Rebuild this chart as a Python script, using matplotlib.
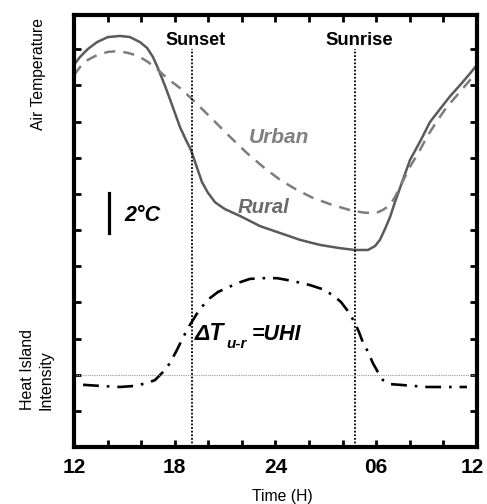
import matplotlib.pyplot as plt
from matplotlib.transforms import ScaledTranslation

plt.rcParams['font.family'] = ['Liberation Sans', 'DejaVu Sans']

# hours since noon of day 1 (12 -> 36), temperatures in arbitrary tick units
rural_t = [12.00, 12.36, 12.83, 13.37, 14.02, 14.74, 15.33, 15.93, 16.35, 16.70,
           17.00, 17.42, 17.84, 18.31, 18.67, 18.97, 19.27, 19.62, 19.98, 20.40,
           20.99, 21.89, 23.08, 24.27, 25.46, 26.65, 27.84, 28.73, 29.51, 29.93,
           30.22, 30.52, 30.82, 31.12, 31.41, 32.01, 32.61, 33.20, 33.80, 34.39,
           34.99, 35.58, 36.00]
rural_y = [10.57, 10.79, 11.01, 11.20, 11.34, 11.37, 11.34, 11.20, 11.04, 10.79,
           10.48, 9.99, 9.46, 8.85, 8.49, 8.21, 7.80, 7.33, 7.03, 6.77,
           6.58, 6.39, 6.11, 5.92, 5.73, 5.59, 5.50, 5.45, 5.45, 5.56,
           5.73, 6.03, 6.36, 6.78, 7.16, 7.94, 8.45, 8.99, 9.35, 9.70,
           10.01, 10.33, 10.57]

urban_t = [12.00, 12.36, 12.83, 13.37, 14.02, 14.62, 15.22, 15.81, 16.41, 17.00,
           17.60, 18.31, 18.90, 19.50, 20.28, 21.29, 22.30, 23.26, 24.27, 25.28,
           26.23, 27.42, 28.61, 29.33, 30.04, 30.40, 30.82, 31.12, 31.41, 32.01,
           32.61, 33.02, 33.62, 34.21, 34.87, 35.58, 36.00]
urban_y = [10.29, 10.51, 10.71, 10.84, 10.93, 10.95, 10.90, 10.82, 10.65, 10.43,
           10.18, 9.93, 9.68, 9.41, 9.05, 8.58, 8.13, 7.75, 7.39, 7.11,
           6.89, 6.69, 6.53, 6.48, 6.48, 6.56, 6.69, 6.92, 7.19, 7.75,
           8.22, 8.58, 9.02, 9.41, 9.76, 10.15, 10.35]

uhi_t = [12.54, 13.55, 14.74, 15.63, 16.35, 16.82, 17.12, 17.42, 17.71, 18.07,
         18.49, 18.79, 19.08, 19.50, 20.10, 20.58, 21.11, 21.77, 22.48, 23.26,
         24.10, 25.04, 26.05, 26.77, 27.42, 27.90, 28.26, 28.56, 28.73, 28.97,
         29.20, 29.51, 29.80, 30.10, 30.40, 30.82, 31.41, 32.19, 33.02, 34.21,
         35.40]
uhi_y = [1.72, 1.69, 1.66, 1.69, 1.77, 1.85, 1.99, 2.13, 2.32, 2.63,
         3.02, 3.29, 3.51, 3.82, 4.12, 4.29, 4.40, 4.54, 4.65, 4.67,
         4.67, 4.59, 4.48, 4.37, 4.20, 4.01, 3.79, 3.57, 3.43, 3.18,
         2.90, 2.63, 2.32, 2.07, 1.85, 1.74, 1.72, 1.69, 1.66, 1.66,
         1.66]

sunset = 19.0
sunrise = 28.75
zero_line = 2.0

xticks = [12, 18, 24, 30, 36]
xlabels = ['12', '18', '24', '06', '12']

fig = plt.figure(figsize=(4.87, 5.04), dpi=100)
ax = fig.add_axes([74 / 487, 57 / 504, 403 / 487, 432 / 504])

ax.plot(rural_t, rural_y, color='#5a5a5a', lw=1.8, solid_joinstyle='round')
ax.plot(urban_t, urban_y, color='#7d7d7d', lw=1.8, dashes=(4.5, 3.2))
ax.plot(uhi_t, uhi_y, color='black', lw=1.9, dashes=(6, 3, 1, 3))

ax.axhline(zero_line, color='#999999', lw=0.8, ls=(0, (1, 1)))
ax.plot([sunset, sunset], [0, 11.0], color='black', lw=1.3, ls=(0, (1, 1)))
ax.plot([sunrise, sunrise], [0, 11.0], color='black', lw=1.3, ls=(0, (1, 1)))

ax.text(19.26, 11.24, 'Sunset', ha='center', va='center', fontsize=13, fontweight='bold')
ax.text(28.96, 11.24, 'Sunrise', ha='center', va='center', fontsize=13.3, fontweight='bold')
ax.text(24.2, 8.56, 'Urban', ha='center', va='center', fontsize=15, fontweight='bold',
        style='italic', color='#808080')
ax.text(23.3, 6.63, 'Rural', ha='center', va='center', fontsize=14.6, fontweight='bold',
        style='italic', color='#6a6a6a')

# 2 degree scale bar
ax.plot([14.08, 14.08], [5.91, 7.02], color='black', lw=2.3)
ax.text(15.0, 6.41, '2°C', ha='left', va='center', fontsize=15.5, fontweight='bold',
        style='italic')

ax.text(19.2, 2.96, 'ΔT', ha='left', va='baseline', fontsize=16.5, fontweight='bold',
        style='italic')
ax.text(21.05, 2.74, 'u-r', ha='left', va='baseline', fontsize=11, fontweight='bold',
        style='italic')
ax.text(22.6, 2.96, '=UHI', ha='left', va='baseline', fontsize=15.5, fontweight='bold',
        style='italic')

ax.set_xlim(12, 36)
ax.set_ylim(0, 11.95)
ax.set_xticks(xticks)
ax.set_xticklabels(xlabels, fontsize=15, fontweight='bold')
ax.set_xticks(range(12, 37, 2), minor=True)
ax.set_yticks(range(1, 12))
ax.set_yticklabels([])
ax.tick_params(axis='both', which='both', direction='in', length=5, width=2,
               top=True, right=True)
ax.tick_params(axis='x', which='major', pad=8)

# pull the last "12" in a bit so it stays inside the figure
last = ax.get_xticklabels()[-1]
last.set_transform(last.get_transform() + ScaledTranslation(-5 / 100, 0, fig.dpi_scale_trans))

for s in ax.spines.values():
    s.set_linewidth(3)

fig.text(38 / 487, 1 - 74 / 504, 'Air Temperature', rotation=90, ha='center',
         va='center', fontsize=11.3)
fig.text(37 / 487, 1 - 370 / 504, 'Heat Island\nIntensity', rotation=90, ha='center',
         va='center', fontsize=11.5, multialignment='left', linespacing=1.25)
fig.text(282 / 487, 1 - 497 / 504, 'Time (H)', ha='center', va='center', fontsize=11.3)

fig.savefig('out.png', dpi=100)
